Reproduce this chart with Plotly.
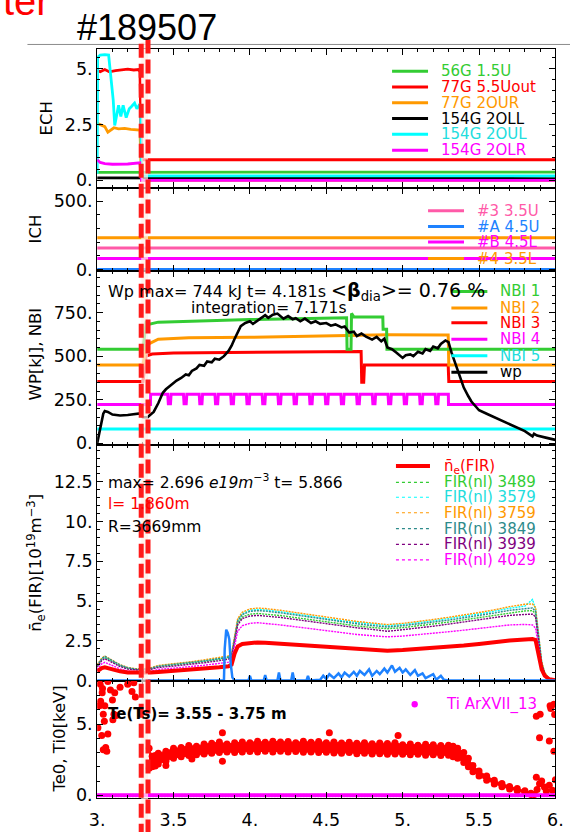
import plotly.graph_objects as go

W, H = 578, 832
FONT = "DejaVu Sans"


def fx(p):
    return p / W


def fy(p):
    return 1 - p / H


# ---------------- data ----------------
# ECH panel
ech_56g_t = [3.0, 3.28, 3.29, 6.0]
ech_56g_v = [0.36, 0.36, 0.37, 0.37]
ech_77g_t = [3.0, 3.02, 3.05, 3.08, 3.12, 3.16, 3.2, 3.24, 3.27, 3.28, 3.29, 6.0]
ech_77g_v = [4.9, 4.85, 4.95, 4.85, 4.9, 4.95, 4.97, 4.93, 4.95, 4.85, 0.92, 0.92]
ech_77gour_t = [3.0, 3.02, 3.05, 3.07, 3.09, 3.11, 3.14, 3.18, 3.22, 3.26, 3.28, 3.29, 6.0]
ech_77gour_v = [2.55, 2.5, 2.4, 2.15, 2.25, 2.35, 2.3, 2.32, 2.28, 2.25, 2.25, 0.0, 0.0]
ech_154gll_t = [3.0, 3.28, 3.29, 6.0]
ech_154gll_v = [0.11, 0.11, 0.08, 0.08]
ech_154gul_t = [3.0, 3.003, 3.02, 3.05, 3.075, 3.085, 3.095, 3.105, 3.115, 3.13, 3.14,
                3.155, 3.17, 3.19, 3.21, 3.225, 3.245, 3.26, 3.275, 3.285, 3.29, 6.0]
ech_154gul_v = [0.3, 5.5, 5.6, 5.62, 5.6, 5.0, 4.4, 3.6, 2.45, 3.1, 3.35,
                2.85, 3.35, 2.8, 3.2, 3.3, 3.45, 3.2, 3.35, 3.3, 0.2, 0.2]
ech_154glr_t = [3.0, 3.02, 3.05, 3.1, 3.2, 3.27, 3.28, 3.29, 6.0]
ech_154glr_v = [0.92, 0.8, 0.75, 0.72, 0.73, 0.78, 0.78, 0.0, 0.0]

# ICH panel
ich_t = [3.0, 6.0]
ich_3_v = [157, 157]
ich_a_v = [0, 0]
ich_b_v = [80, 80]
ich_4_v = [232, 232]

# WP / NBI panel
nbi1_t = [3.0, 3.3, 3.32, 3.335, 3.4, 3.6, 4.0, 4.3, 4.6, 4.633, 4.636, 4.662, 4.665,
          4.68, 4.87, 4.872, 4.895, 4.897, 6.0]
nbi1_v = [540, 540, 690, 682, 695, 701, 710, 714, 720, 720, 540, 540, 745,
          725, 725, 655, 655, 540, 540]
nbi2_t = [3.0, 3.3, 3.32, 3.335, 3.4, 3.6, 4.0, 4.5, 4.9, 5.28, 5.298, 5.302, 6.0]
nbi2_v = [450, 450, 560, 569, 597, 606, 608, 616, 623, 622, 622, 450, 450]
nbi3_t = [3.0, 3.3, 3.32, 3.335, 3.36, 3.5, 4.5, 4.728, 4.732, 4.745, 4.75,
          5.298, 5.302, 6.0]
nbi3_v = [355, 355, 500, 503, 512, 518, 525, 527, 351, 351, 450, 450, 355, 355]
nbi4_base = 223
nbi4_high = 282
nbi4_on = 3.35
nbi4_off = 5.30
nbi4_dips = [3.462, 3.565, 3.668, 3.771, 3.874, 3.977, 4.080, 4.183, 4.286, 4.389,
             4.492, 4.595, 4.698, 4.801, 4.904, 5.007, 5.110, 5.213]
nbi5_t = [3.0, 6.0]
nbi5_v = [83, 83]
wp_t = [3.0, 3.02, 3.04, 3.05, 3.07, 3.1, 3.15, 3.2, 3.25, 3.28, 3.3, 3.33, 3.35, 3.37,
        3.4, 3.43, 3.45, 3.47, 3.5, 3.52, 3.55, 3.58, 3.6, 3.62, 3.65, 3.67, 3.7, 3.72,
        3.75, 3.77, 3.8, 3.83, 3.86, 3.88, 3.9, 3.92, 3.94, 3.97, 4.0, 4.02, 4.05, 4.07,
        4.1, 4.12, 4.15, 4.18, 4.2, 4.22, 4.25, 4.28, 4.3, 4.33, 4.36, 4.4, 4.43, 4.46,
        4.5, 4.53, 4.56, 4.6, 4.62, 4.65, 4.68, 4.7, 4.73, 4.76, 4.8, 4.83, 4.86, 4.88,
        4.9, 4.93, 4.96, 4.98, 5.0, 5.02, 5.05, 5.07, 5.1, 5.13, 5.15, 5.18, 5.2, 5.23,
        5.25, 5.28, 5.3, 5.32, 5.35, 5.38, 5.4, 5.43, 5.45, 5.48, 5.5, 5.55, 5.6, 5.65,
        5.7, 5.75, 5.8, 5.85, 5.86, 5.88, 5.9, 5.95, 6.0]
wp_v = [0, 80, 170, 185, 180, 165, 160, 163, 168, 172, 150, 150, 165, 180,
        230, 290, 310, 325, 345, 360, 375, 395, 390, 415, 430, 450, 445, 470,
        465, 485, 480, 500, 530, 560, 600, 640, 672, 690, 700, 685, 705, 715,
        735, 720, 738, 744, 728, 715, 730, 712, 718, 700, 715, 690, 700, 685,
        690, 675, 682, 665, 670, 635, 640, 615, 630, 612, 595, 610, 585, 600,
        550, 540, 520, 505, 490, 505, 510, 500, 525, 515, 540, 530, 555, 545,
        570, 590, 580, 520, 440, 370, 320, 270, 240, 210, 190, 170, 150, 130,
        110, 90, 70, 40, 55, 45, 40, 30, 20]

# density panel
ne_t = [3.0, 3.03, 3.05, 3.08, 3.1, 3.15, 3.2, 3.25, 3.3, 3.35, 3.4, 3.5, 3.6, 3.7, 3.8,
        3.86, 3.88, 3.9, 3.92, 3.95, 4.0, 4.05, 4.1, 4.2, 4.3, 4.4, 4.5, 4.6, 4.7, 4.8,
        4.9, 5.0, 5.1, 5.2, 5.3, 5.4, 5.5, 5.6, 5.7, 5.8, 5.85, 5.87, 5.89, 5.91, 5.93,
        5.96, 6.0]
ne_fir = [0.58, 0.78, 0.83, 0.75, 0.68, 0.58, 0.5, 0.48, 0.48, 0.5, 0.54, 0.6, 0.68, 0.75, 0.84,
          0.9, 1.0, 1.7, 2.15, 2.3, 2.38, 2.4, 2.38, 2.32, 2.25, 2.18, 2.1, 2.04, 1.98, 1.93,
          1.88, 1.92, 1.98, 2.05, 2.12, 2.2, 2.3, 2.42, 2.52, 2.58, 2.62, 2.55, 1.5, 0.7, 0.3,
          0.08, 0.02]
nl_3489 = [0.9, 1.3, 1.45, 1.3, 1.15, 0.93, 0.77, 0.7, 0.68, 0.74, 0.88, 0.97, 1.07, 1.19, 1.33,
           1.43, 1.55, 2.65, 3.6, 4.0, 4.18, 4.22, 4.19, 4.09, 3.96, 3.82, 3.68, 3.55, 3.44, 3.34,
           3.26, 3.33, 3.43, 3.56, 3.68, 3.82, 3.96, 4.1, 4.27, 4.38, 4.4, 4.2, 2.5, 1.05, 0.43,
           0.1, 0.02]
nl_3579 = [0.95, 1.35, 1.5, 1.35, 1.2, 0.97, 0.8, 0.72, 0.7, 0.77, 0.92, 1.02, 1.13, 1.26, 1.41,
           1.51, 1.64, 2.8, 3.8, 4.2, 4.42, 4.47, 4.44, 4.33, 4.2, 4.05, 3.9, 3.76, 3.65, 3.55,
           3.45, 3.53, 3.63, 3.76, 3.9, 4.03, 4.19, 4.36, 4.55, 4.68, 5.1, 4.5, 2.7, 1.15, 0.48,
           0.11, 0.03]
nl_3759 = [1.0, 1.4, 1.55, 1.4, 1.25, 1.0, 0.82, 0.75, 0.73, 0.8, 0.95, 1.05, 1.17, 1.3, 1.45,
           1.55, 1.68, 2.9, 3.9, 4.3, 4.5, 4.56, 4.53, 4.42, 4.28, 4.12, 3.97, 3.83, 3.72, 3.62,
           3.52, 3.6, 3.7, 3.84, 3.98, 4.12, 4.28, 4.45, 4.65, 4.8, 4.82, 4.6, 2.8, 1.2, 0.5,
           0.12, 0.03]
nl_3849 = [0.95, 1.38, 1.52, 1.37, 1.22, 0.98, 0.8, 0.72, 0.7, 0.77, 0.9, 1.0, 1.1, 1.23, 1.38,
           1.48, 1.6, 2.75, 3.75, 4.15, 4.35, 4.4, 4.37, 4.26, 4.12, 3.97, 3.83, 3.69, 3.57, 3.46,
           3.37, 3.45, 3.55, 3.68, 3.8, 3.94, 4.09, 4.25, 4.42, 4.55, 4.57, 4.35, 2.6, 1.1, 0.45,
           0.1, 0.02]
nl_3939 = [0.85, 1.25, 1.38, 1.24, 1.1, 0.88, 0.72, 0.66, 0.64, 0.7, 0.82, 0.91, 1.0, 1.12, 1.25,
           1.35, 1.46, 2.55, 3.5, 3.9, 4.06, 4.1, 4.07, 3.97, 3.84, 3.7, 3.56, 3.43, 3.32, 3.22,
           3.1, 3.2, 3.3, 3.42, 3.55, 3.68, 3.82, 3.96, 4.1, 4.16, 4.18, 4.0, 2.4, 1.0, 0.4,
           0.09, 0.02]
nl_4029 = [0.7, 1.05, 1.15, 1.03, 0.92, 0.73, 0.6, 0.55, 0.54, 0.59, 0.7, 0.78, 0.86, 0.96, 1.08,
           1.16, 1.27, 2.2, 3.1, 3.45, 3.6, 3.64, 3.6, 3.5, 3.38, 3.25, 3.12, 3.0, 2.9, 2.82,
           2.75, 2.8, 2.88, 2.97, 3.07, 3.17, 3.28, 3.4, 3.5, 3.53, 3.5, 3.3, 1.9, 0.8, 0.32,
           0.07, 0.01]
blue_t = [3.0, 3.83, 3.835, 3.845, 3.855, 3.865, 3.875, 3.885, 3.9, 3.99, 4.0, 4.01, 4.09, 4.1,
          4.11, 4.18, 4.19, 4.2, 4.27, 4.28, 4.29, 4.37, 4.38, 4.39, 4.46, 4.48, 4.5, 4.52,
          4.55, 4.58, 4.6, 4.62, 4.65, 4.68, 4.7, 4.72, 4.75, 4.78, 4.8, 4.83, 4.85, 4.88,
          4.9, 4.93, 4.95, 4.98, 5.0, 5.02, 5.05, 5.08, 5.1, 5.13, 5.15, 5.2, 5.22, 5.25,
          5.27, 5.3, 6.0]
blue_v = [0, 0, 2.0, 3.2, 3.0, 2.6, 1.0, 0.2, 0, 0, 0.3, 0, 0, 0.35,
          0, 0, 0.5, 0, 0, 0.5, 0, 0, 0.3, 0, 0.05, 0.3, 0.1, 0.4,
          0.15, 0.45, 0.2, 0.5, 0.25, 0.55, 0.3, 0.6, 0.35, 0.7, 0.3, 0.6, 0.4, 0.75,
          0.5, 0.95, 0.55, 0.8, 0.5, 0.7, 0.35, 0.65, 0.3, 0.45, 0.15, 0.4, 0.05, 0.3,
          0.05, 0, 0]

# Te / Ti panel
te_band_t = [3.34, 3.36, 3.38, 3.40, 3.45, 3.50, 3.55, 3.60, 3.65, 3.70, 3.75, 3.80, 3.85,
             3.90, 3.95, 4.00, 4.05, 4.10, 4.15, 4.20, 4.25, 4.30, 4.35, 4.40, 4.45, 4.50,
             4.55, 4.60, 4.65, 4.70, 4.75, 4.80, 4.85, 4.90, 4.95, 5.00, 5.05, 5.10, 5.15,
             5.20, 5.25, 5.30, 5.33, 5.36, 5.40, 5.43, 5.46, 5.50, 5.55, 5.60, 5.65, 5.70,
             5.75, 5.80, 5.84]
te_band_hi = [3.3, 2.75, 2.8, 2.95, 3.1, 3.3, 3.35, 3.5, 3.45, 3.6, 3.65, 3.75, 3.6,
              3.7, 3.75, 3.7, 3.8, 3.72, 3.8, 3.75, 3.78, 3.7, 3.8, 3.72, 3.78, 3.7,
              3.75, 3.68, 3.72, 3.66, 3.7, 3.62, 3.68, 3.64, 3.7, 3.55, 3.6, 3.52, 3.58,
              3.55, 3.5, 3.52, 3.45, 3.3, 3.0, 2.6, 2.1, 1.7, 1.35, 1.05, 0.82, 0.62,
              0.47, 0.32, 0.15]
te_band_lo = [1.9, 2.0, 2.05, 2.2, 2.4, 2.6, 2.7, 2.8, 2.85, 2.9, 2.95, 3.0, 3.05,
              3.0, 3.05, 3.08, 3.05, 3.1, 3.05, 3.1, 3.05, 3.08, 3.02, 3.05, 3.0, 3.02,
              2.98, 2.95, 3.0, 2.92, 2.95, 2.9, 2.92, 2.88, 2.9, 2.88, 2.85, 2.88, 2.82,
              2.85, 2.8, 2.82, 2.7, 2.6, 2.3, 2.0, 1.65, 1.35, 1.05, 0.8, 0.6, 0.45,
              0.32, 0.18, 0.05]
te_out_t = [3.005, 3.015, 3.02, 3.023, 3.03, 3.033, 3.035, 3.04, 3.04, 3.047, 3.05, 3.056,
            3.063, 3.07, 3.07, 3.087, 3.1, 3.103, 3.11, 3.115, 3.125, 3.15, 3.2, 3.228,
            3.24, 3.25, 3.45, 3.62, 3.82, 3.82, 4.52, 4.97, 5.862, 5.875, 5.875, 5.88,
            5.896, 5.896, 5.9, 5.91, 5.928, 5.94, 5.96, 5.96, 5.965, 5.97, 5.98, 5.99,
            5.99, 5.995, 6.0]
te_out_v = [4.75, 6.3, 7.8, 6.6, 4.2, 7.2, 7.5, 5.7, 3.2, 5.2, 6.3, 3.36,
            3.1, 4.3, 8.0, 7.4, 6.7, 5.3, 5.7, 7.2, 5.6, 7.6, 7.8, 7.3,
            7.9, 6.9, 2.1, 2.55, 4.4, 2.4, 4.4, 4.2, 0.05, 1.27, 5.56, 0.4,
            0.81, 4.05, 5.7, 1.0, 0.58, 0.3, 0.7, 3.82, 6.3, 6.1, 0.35, 6.4,
            3.1, 5.67, 1.1]
ti_t = [round(3.0 + 0.01 * k, 2) for k in range(301)]
ti_v = [0.0] * len(ti_t)

# ---------------- figure ----------------
fig = go.Figure()

GREEN = "#33cc33"
RED = "#ff0000"
ORANGE = "#ff9900"
CYAN = "#00ffff"
MAGENTA = "#ff00ff"
PINK = "#ff5aa8"
BLUE = "#1e82ff"
TEAL = "#2e8b8b"
PURPLE = "#800080"


def ax(i):
    return ("x" if i == 1 else f"x{i}"), ("y" if i == 1 else f"y{i}")


def add_line(i, t, v, color, width=2.8, dash="solid", mode="lines", **kw):
    xa, ya = ax(i)
    fig.add_trace(go.Scatter(x=t, y=v, xaxis=xa, yaxis=ya, mode=mode,
                             line=dict(color=color, width=width, dash=dash),
                             hoverinfo="skip", showlegend=False, **kw))


# ECH
add_line(1, ech_56g_t, ech_56g_v, GREEN)
add_line(1, ech_77g_t, ech_77g_v, RED)
add_line(1, ech_77gour_t, ech_77gour_v, ORANGE)
add_line(1, ech_154gll_t, ech_154gll_v, "black")
add_line(1, ech_154gul_t, ech_154gul_v, CYAN)
add_line(1, ech_154glr_t, ech_154glr_v, MAGENTA)

# ICH
add_line(2, ich_t, ich_4_v, ORANGE, 3)
add_line(2, ich_t, ich_3_v, PINK, 3)
add_line(2, ich_t, ich_b_v, MAGENTA, 3)
add_line(2, ich_t, ich_a_v, BLUE, 3)

# NBI / WP
nbi4_t = [3.0, nbi4_on - 0.001, nbi4_on]
nbi4_v = [nbi4_base, nbi4_base, nbi4_high]
for d in nbi4_dips:
    nbi4_t += [d, d + 0.004, d + 0.018, d + 0.022]
    nbi4_v += [nbi4_high, nbi4_base + 4, nbi4_base + 4, nbi4_high]
nbi4_t += [nbi4_off - 0.001, nbi4_off, 6.0]
nbi4_v += [nbi4_high, nbi4_base, nbi4_base]

add_line(3, nbi5_t, nbi5_v, CYAN, 3)
add_line(3, nbi4_t, nbi4_v, MAGENTA, 3)
add_line(3, nbi3_t, nbi3_v, RED, 3)
add_line(3, nbi2_t, nbi2_v, ORANGE, 3)
add_line(3, nbi1_t, nbi1_v, GREEN, 3)
add_line(3, wp_t, wp_v, "black", 2.6)

# density
NL_DASH = "2px,1px"
add_line(4, ne_t, nl_3489, GREEN, 1.4, NL_DASH)
add_line(4, ne_t, nl_3579, CYAN, 1.4, NL_DASH)
add_line(4, ne_t, nl_3759, ORANGE, 1.4, NL_DASH)
add_line(4, ne_t, nl_3849, TEAL, 1.4, NL_DASH)
add_line(4, ne_t, nl_3939, PURPLE, 1.4, NL_DASH)
add_line(4, ne_t, nl_4029, MAGENTA, 1.4, NL_DASH)
add_line(4, ne_t, ne_fir, RED, 4)
add_line(4, blue_t, blue_v, BLUE, 2.5)

# Te / Ti
xa5, ya5 = ax(5)
fig.add_trace(go.Scatter(x=te_band_t + te_band_t[::-1], y=te_band_hi + te_band_lo[::-1],
                         xaxis=xa5, yaxis=ya5, mode="lines", fill="toself",
                         fillcolor=RED, line=dict(color=RED, width=1),
                         hoverinfo="skip", showlegend=False))
for arr in (te_band_hi, te_band_lo):
    fig.add_trace(go.Scatter(x=te_band_t, y=arr, xaxis=xa5, yaxis=ya5, mode="markers",
                             marker=dict(color=RED, size=7), hoverinfo="skip",
                             showlegend=False))
fig.add_trace(go.Scatter(x=te_out_t, y=te_out_v, xaxis=xa5, yaxis=ya5, mode="markers",
                         marker=dict(color=RED, size=7), hoverinfo="skip", showlegend=False))
fig.add_trace(go.Scatter(x=ti_t, y=ti_v, xaxis=xa5, yaxis=ya5, mode="markers",
                         marker=dict(color=MAGENTA, size=4), hoverinfo="skip",
                         showlegend=False))

# ---------------- axes ----------------
rows_px = [(50.0, 190.7), (190.7, 274.0), (274.0, 450.0), (450.0, 689.3), (689.3, 807.7)]
yranges = [[-0.36, 5.85], [-9, 594], [-7, 990], [-0.03, 14.85], [-0.19, 8.03]]
ytickvals = [[0, 2.5, 5], [0, 500], [0, 250, 500, 750], [0, 2.5, 5, 7.5, 10, 12.5], [0, 5]]
yticktext = [["0.", "2.5", "5."], ["0.", "500."], ["0.", "250.", "500.", "750."],
             ["0.", "2.5", "5.", "7.5", "10.", "12.5"], ["0.", "5."]]
yminor = [0.5, 100, 50, 0.5, 1]
xtickvals = [3, 3.5, 4, 4.5, 5, 5.5, 6]
xticktext = ["3.", "3.5", "4.", "4.5", "5.", "5.5", "6."]
X_LEFT, X_RIGHT = 91.7, 563.0

common = dict(showline=True, linecolor="black", linewidth=1, mirror="ticks",
              ticks="inside", ticklen=6, tickwidth=1, tickcolor="black",
              showgrid=False, zeroline=False,
              tickfont=dict(family=FONT, size=17.5, color="black"))
layout = {}
for i in range(1, 6):
    top, bot = rows_px[i - 1]
    xk = "xaxis" if i == 1 else f"xaxis{i}"
    yk = "yaxis" if i == 1 else f"yaxis{i}"
    layout[xk] = dict(common, domain=[fx(X_LEFT), fx(X_RIGHT)], range=[3, 6],
                      anchor="y" if i == 1 else f"y{i}",
                      tickmode="array", tickvals=xtickvals, ticktext=xticktext,
                      showticklabels=(i == 5), ticklabelstandoff=6,
                      minor=dict(ticks="inside", ticklen=3, dtick=0.1, tick0=3,
                                 tickcolor="black", showgrid=False))
    layout[yk] = dict(common, domain=[fy(bot), fy(top)], range=yranges[i - 1],
                      anchor="x" if i == 1 else f"x{i}",
                      tickmode="array", tickvals=ytickvals[i - 1], ticktext=yticktext[i - 1],
                      minor=dict(ticks="inside", ticklen=3, dtick=yminor[i - 1], tick0=0,
                                 tickcolor="black", showgrid=False))

shapes = []
annotations = []


def text(xp, yp, s, size=15, color="black", xanchor="left", angle=0, family=FONT):
    annotations.append(dict(x=fx(xp), y=fy(yp), xref="paper", yref="paper", text=s,
                            showarrow=False, xanchor=xanchor, yanchor="middle",
                            textangle=angle, font=dict(family=family, size=size, color=color)))


def legend(names, colors, ys, lx0, lx1, tx, widths, dashes, size=15, textcolors=None):
    for k, name in enumerate(names):
        shapes.append(dict(type="line", xref="paper", yref="paper",
                           x0=fx(lx0), x1=fx(lx1), y0=fy(ys[k]), y1=fy(ys[k]),
                           line=dict(color=colors[k], width=widths[k], dash=dashes[k])))
        tc = textcolors[k] if textcolors else colors[k]
        text(tx, ys[k], name, size=size, color=tc)


ech_names = ["56G 1.5U", "77G 5.5Uout", "77G 2OUR", "154G 2OLL", "154G 2OUL", "154G 2OLR"]
ech_cols = [GREEN, RED, ORANGE, "black", CYAN, MAGENTA]
ech_txtcols = [GREEN, RED, ORANGE, "black", "#22dddd", MAGENTA]
legend(ech_names, ech_cols, [72, 88, 104, 120, 136, 152], 395, 432, 443,
       [3] * 6, ["solid"] * 6, textcolors=ech_txtcols)

ich_names = ["#3 3.5U", "#A 4.5U", "#B 4.5L", "#4 3.5L"]
ich_cols = [PINK, BLUE, MAGENTA, ORANGE]
legend(ich_names, ich_cols, [213.3, 229.3, 245, 261.7], 432, 469, 480,
       [3] * 4, ["solid"] * 4)

wp_names = ["NBI 1", "NBI 2", "NBI 3", "NBI 4", "NBI 5", "wp"]
wp_cols = [GREEN, ORANGE, RED, MAGENTA, CYAN, "black"]
wp_txtcols = [GREEN, ORANGE, RED, MAGENTA, "#22dddd", "black"]
legend(wp_names, wp_cols, [295, 311.7, 326.7, 343.3, 360, 376.7], 456, 493, 504,
       [3] * 6, ["solid"] * 6, textcolors=wp_txtcols)

ne_names = ["n̄<sub>e</sub>(FIR)", "FIR(nl) 3489", "FIR(nl) 3579", "FIR(nl) 3759",
            "FIR(nl) 3849", "FIR(nl) 3939", "FIR(nl) 4029"]
ne_cols = [RED, GREEN, CYAN, ORANGE, TEAL, PURPLE, MAGENTA]
ne_txtcols = [RED, GREEN, "#22dddd", ORANGE, TEAL, PURPLE, MAGENTA]
legend(ne_names, ne_cols, [471.7, 488.3, 503.3, 519, 535, 551, 566.7], 399, 434, 446.5,
       [4] + [1.2] * 6, ["solid"] + ["dot"] * 6, textcolors=ne_txtcols)

# Ti legend (marker)
shapes.append(dict(type="circle", xref="paper", yref="paper",
                   x0=fx(415), x1=fx(421.5), y0=fy(716), y1=fy(709.5),
                   fillcolor=MAGENTA, line=dict(color=MAGENTA, width=0)))
text(448.3, 713, "Ti ArXVII_13", size=15, color=MAGENTA)

# panel texts
text(101, 295, "Wp max= 744 kJ t= 4.181s <span style='font-size:19px'>&lt;<b>β</b>"
               "<sub>dia</sub>&gt;= 0.76 %</span>", size=16)
text(186, 312, "integration= 7.171s", size=15.5)
text(101, 487, "max= 2.696 <i>e19m</i><sup>−3</sup> t= 5.866", size=15.5)
text(101, 510, "l= 1.860m", size=15.5, color=RED)
text(101, 533, "R=3669mm", size=15.5)
text(101, 723, "<b>Te(Ts)= 3.55 - 3.75 m</b>", size=15)

# axis titles
text(40, 120, "ECH", size=16.5, xanchor="center", angle=-90)
text(28, 232, "ICH", size=16.5, xanchor="center", angle=-90)
text(28.5, 358, "WP[kJ], NBI", size=16.5, xanchor="center", angle=-90)
text(28.5, 570, "n̄<sub>e</sub>(FIR)[10<sup>19</sup>m<sup>−3</sup>]", size=16.5,
     xanchor="center", angle=-90)
text(52, 748, "Te0, Ti0[keV]", size=16.5, xanchor="center", angle=-90)

# header
text(143, 28, "#189507", size=36, xanchor="center", family="Liberation Sans")
text(45, 1.5, "ter", size=40, color=RED, xanchor="right", family="Liberation Sans")
shapes.append(dict(type="line", xref="paper", yref="paper", x0=fx(20), x1=1.0,
                   y0=fy(45), y1=fy(45), line=dict(color="#8c8c8c", width=1)))

# dashed red highlight box
shapes.append(dict(type="rect", xref="paper", yref="paper", layer="above",
                   x0=fx(137), x1=fx(144), y0=-0.03, y1=fy(42.5),
                   fillcolor="rgba(255,238,232,0.72)",
                   line=dict(color="#ff1a1a", width=5, dash="14px,6px")))

fig.update_layout(width=W, height=H, margin=dict(l=0, r=0, t=0, b=0),
                  paper_bgcolor="white", plot_bgcolor="white", showlegend=False,
                  shapes=shapes, annotations=annotations, **layout)

fig.write_html("out.html")
